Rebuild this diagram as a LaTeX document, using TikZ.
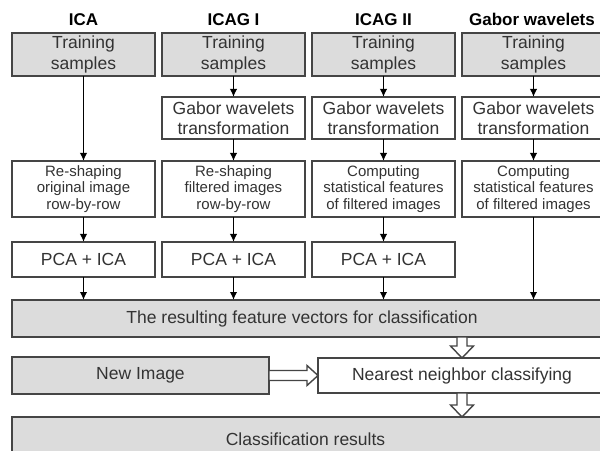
\documentclass[tikz,border=0pt]{standalone}
\usepackage{fontspec}
\setmainfont{Liberation Sans}
\usetikzlibrary{arrows.meta,calc}

\definecolor{boxline}{HTML}{454545}
\definecolor{boxgray}{HTML}{DCDCDC}
\definecolor{txt}{HTML}{333333}

\tikzset{
  box/.style={draw=boxline, line width=1.7bp, anchor=north west, inner sep=0pt,
    outer sep=0pt, align=center, text=txt, font=\fontsize{17.5bp}{20.5bp}\selectfont},
  graybox/.style={box, fill=boxgray},
  whitebox/.style={box, fill=white},
  smalltext/.style={font=\fontsize{15bp}{16.5bp}\selectfont},
  colbox/.style={minimum width=143bp},
  head/.style={anchor=base, text=black, font=\bfseries\fontsize{17bp}{20bp}\selectfont},
  arr/.style={draw=black, line width=1.6bp, -{Latex[length=8bp,width=7.5bp]}},
  hollow/.style={draw=boxline, line width=1.4bp, fill=white, line join=miter}
}

% block arrow pointing down from #1 to #2
\newcommand\hollowdown[2]{%
  \path[hollow] ($(#1)+(-5,0)$) -- ($(#2)+(-5,-12)$) -- ($(#2)+(-11.5,-12)$)
    -- (#2) -- ($(#2)+(11.5,-12)$) -- ($(#2)+(5,-12)$) -- ($(#1)+(5,0)$) -- cycle;}
% block arrow pointing right from #1 to #2
\newcommand\hollowright[2]{%
  \path[hollow] ($(#1)+(0,-5)$) -- ($(#2)+(-11,-5)$) -- ($(#2)+(-11,-10)$)
    -- (#2) -- ($(#2)+(-11,10)$) -- ($(#2)+(-11,5)$) -- ($(#1)+(0,5)$) -- cycle;}

\begin{document}
\begin{tikzpicture}[x=1bp, y=-1bp]
\path[use as bounding box, clip] (0,0) rectangle (600,451);
\fill[white] (0,0) rectangle (600,451);

% column headings
\node[head] (h1) at (83.5,26) {ICA};
\node[head] (h2) at (233.5,26) {ICAG I};
\node[head] (h3) at (383.5,26) {ICAG II};
\node[head] (h4) at (532,26) {Gabor wavelets};

% training samples
\foreach \i/\x in {1/12,2/162,3/312,4/462}{
  \node[graybox, colbox, minimum height=43bp] (t\i) at (\x,33) {Training\\samples};
}
% Gabor transformation
\foreach \i/\x in {2/162,3/312,4/462}{
  \node[whitebox, colbox, minimum height=42bp] (g\i) at (\x,97) {Gabor wavelets\\transformation};
}
% re-shaping / statistics
\node[whitebox, colbox, smalltext, minimum height=56bp] (r1) at (12,161)
  {Re-shaping\\original image\\row-by-row};
\node[whitebox, colbox, smalltext, minimum height=56bp] (r2) at (162,161)
  {Re-shaping\\filtered images\\row-by-row};
\node[whitebox, colbox, smalltext, minimum height=56bp] (r3) at (312,161)
  {Computing\\statistical features\\of filtered images};
\node[whitebox, colbox, smalltext, minimum height=56bp] (r4) at (462,161)
  {Computing\\statistical features\\of filtered images};
% PCA + ICA
\foreach \i/\x in {1/12,2/162,3/312}{
  \node[whitebox, colbox, minimum height=35bp] (p\i) at (\x,242) {PCA + ICA};
}

% lower chain
\node[graybox, minimum width=594bp, minimum height=37bp] (res) at (12,300)
  {\hspace*{-7bp}The resulting feature vectors for classification\hspace*{7bp}};
\node[graybox, minimum width=257bp, minimum height=37bp] (ni) at (12,357) {New Image};
\node[whitebox, minimum width=288bp, minimum height=35bp] (nn) at (318,358)
  {Nearest neighbor classifying};
\node[graybox, minimum width=594bp, minimum height=40bp, text depth=0pt] (cr) at (12,417)
  {\raisebox{-5bp}{Classification results}\hspace*{7bp}};

% arrows
\draw[arr] (t1.south) -- (r1.north);
\foreach \i in {2,3,4}{
  \draw[arr] (t\i.south) -- (g\i.north);
  \draw[arr] (g\i.south) -- (r\i.north);
}
\foreach \i in {1,2,3}{
  \draw[arr] (r\i.south) -- (p\i.north);
  \draw[arr] (p\i.south) -- (res.north -| p\i.south);
}
\draw[arr] (r4.south) -- (res.north -| r4.south);

\hollowdown{res.south -| nn.north}{nn.north}
\hollowdown{nn.south}{cr.north -| nn.south}
\hollowright{ni.east}{nn.west |- ni.east}
\end{tikzpicture}
\end{document}
